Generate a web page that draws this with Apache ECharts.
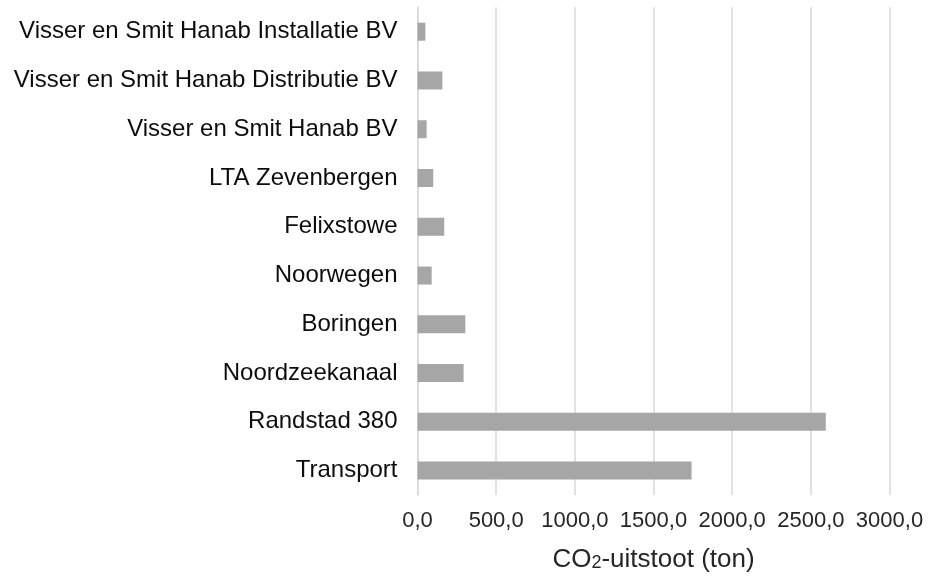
<!DOCTYPE html>
<html>
<head>
<meta charset="utf-8">
<script src="https://cdn.jsdelivr.net/npm/echarts@6/dist/echarts.min.js"></script>
<style>
  html, body { margin: 0; padding: 0; background: #fff; }
  #chart { width: 931px; height: 576px; }
</style>
</head>
<body>
<div id="chart"></div>
<script>
  // categories, bottom to top
  const categories = [
    'Transport',
    'Randstad 380',
    'Noordzeekanaal',
    'Boringen',
    'Noorwegen',
    'Felixstowe',
    'LTA Zevenbergen',
    'Visser en Smit Hanab BV',
    'Visser en Smit Hanab Distributie BV',
    'Visser en Smit Hanab Installatie BV'
  ]
  const emissions = [1742, 2595, 293, 304, 90, 170, 100, 58, 158, 50]
  const xTicks = [0, 500, 1000, 1500, 2000, 2500, 3000]

  let chart = echarts.init(document.getElementById('chart'))
  const font = 'Liberation Sans, Arial, sans-serif'

  /* as in the reference: 500,0 */
  const fmt = v => v.toFixed(1).replace('.', ',')

  chart.setOption({
    animation: false,
    grid: {
      left: 417.5, right: 41.5, top: 7.3, bottom: 81,
      containLabel: false,
      outerBoundsMode: 'none'
    },
    xAxis: {
      type: 'value',
      min: xTicks[0],
      max: xTicks[xTicks.length - 1],
      interval: 500,
      axisLine: { show: false },
      axisTick: { show: false },
      splitLine: { lineStyle: { color: '#d9d9d9', width: 1.5 } },
      axisLabel: {
        formatter: fmt,
        color: '#262626',
        fontFamily: font,
        fontSize: 22,
        margin: 15
      },
      name: '{a|CO}{s|2}{a|-uitstoot (ton)}',
      nameLocation: 'middle',
      nameGap: 52,
      nameTextStyle: {
        rich: {
          a: { fontFamily: font, fontSize: 26, color: '#262626' },
          s: { fontFamily: font, fontSize: 18, color: '#262626', padding: [6, 0, 0, 0] }
        }
      }
    },
    yAxis: {
      type: 'category',
      data: categories,
      axisLine: { show: true, lineStyle: { color: '#d9d9d9', width: 1.5 } },
      axisTick: { show: false },
      axisLabel: {
        color: '#0d0d0d',
        fontFamily: font,
        fontSize: 24,
        margin: 20
      }
    },
    series: [{
      type: 'bar',
      data: emissions,
      barWidth: 18,
      itemStyle: { color: '#a6a6a6' }
    }]
  })
</script>
</body>
</html>
